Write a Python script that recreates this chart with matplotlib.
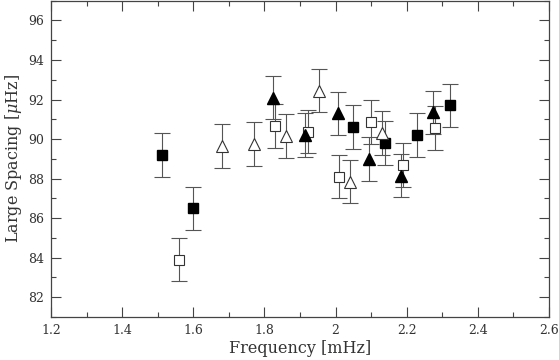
import matplotlib
matplotlib.use("Agg")
import matplotlib.pyplot as plt
from matplotlib.ticker import MultipleLocator

plt.rcParams['font.family'] = 'DejaVu Serif'
plt.rcParams['mathtext.fontset'] = 'dejavuserif'

# filled squares
fsq_x = [1.513, 1.600, 2.050, 2.140, 2.230, 2.323]
fsq_y = [89.2, 86.5, 90.6, 89.8, 90.2, 91.7]
# open squares
osq_x = [1.561, 1.831, 1.922, 2.010, 2.100, 2.190, 2.280]
osq_y = [83.9, 90.67, 90.38, 88.1, 90.87, 88.7, 90.57]
# filled triangles
ftr_x = [1.825, 1.914, 2.007, 2.095, 2.184, 2.275]
ftr_y = [92.1, 90.2, 91.3, 89.0, 88.15, 91.35]
# open triangles
otr_x = [1.682, 1.772, 1.862, 1.954, 2.041, 2.132]
otr_y = [89.65, 89.75, 90.15, 92.45, 87.85, 90.3]
err = 1.1

fig = plt.figure(figsize=(5.59, 3.6), dpi=100)
ax = fig.add_axes([0.0912, 0.1194, 0.8908, 0.8786])

ecol = '#555555'
kw = dict(yerr=err, linestyle='none', ecolor=ecol, elinewidth=0.8,
          capsize=6, capthick=0.8, zorder=2)
ax.errorbar(fsq_x, fsq_y, fmt='s', ms=7, mfc='black', mec='black', **kw)
ax.errorbar(osq_x, osq_y, fmt='s', ms=7, mfc='white', mec='#333333', mew=0.8, **kw)
ax.errorbar(ftr_x, ftr_y, fmt='^', ms=8.5, mfc='black', mec='black', **kw)
ax.errorbar(otr_x, otr_y, fmt='^', ms=8.5, mfc='white', mec='#333333', mew=0.8, **kw)

ax.set_xlim(1.2, 2.6)
ax.set_ylim(81, 97)
ax.xaxis.set_minor_locator(MultipleLocator(0.1))
ax.yaxis.set_minor_locator(MultipleLocator(1))
ax.set_xticks([1.2, 1.4, 1.6, 1.8, 2.0, 2.2, 2.4, 2.6])
ax.set_xticklabels(['1.2', '1.4', '1.6', '1.8', '2', '2.2', '2.4', '2.6'])
ax.set_yticks([82, 84, 86, 88, 90, 92, 94, 96])

ax.tick_params(which='both', direction='in', top=True, right=True,
               colors='#444444', labelcolor='#333333', labelsize=9)
ax.tick_params(which='major', length=7, width=0.8, pad=5)
ax.tick_params(which='minor', length=3.5, width=0.8)
for s in ax.spines.values():
    s.set_color('#444444')
    s.set_linewidth(0.9)

ax.set_xlabel('Frequency [mHz]', fontsize=11.5, color='#333333', labelpad=2)
ax.set_ylabel(r'Large Spacing [$\mu$Hz]', fontsize=11.5, color='#333333', labelpad=3)

fig.savefig('out.png', dpi=100)
